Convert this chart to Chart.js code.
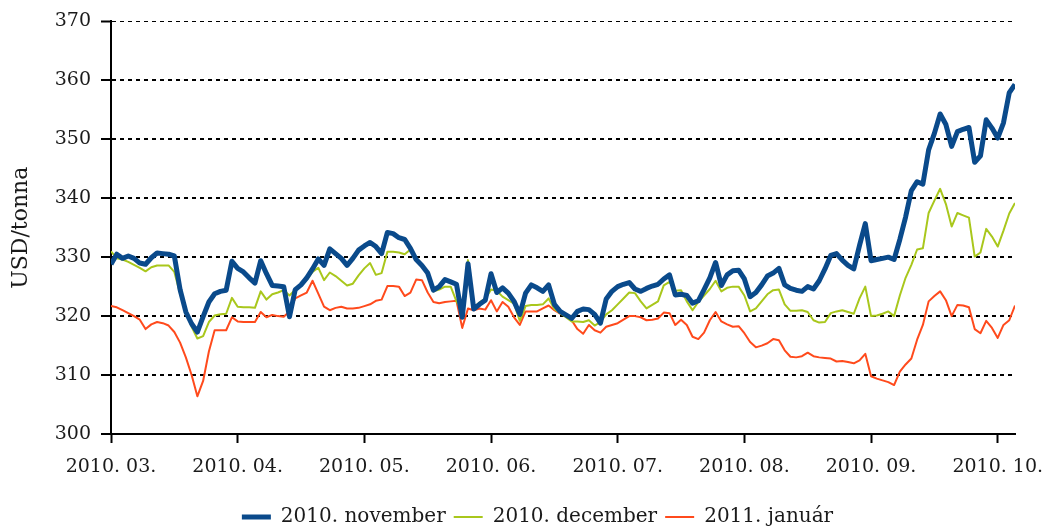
<!DOCTYPE html>
<html>
<head>
<meta charset="utf-8">
<script src="https://cdn.jsdelivr.net/npm/chart.js@4.4.1/dist/chart.umd.min.js"></script>
<style>
  html, body { margin: 0; padding: 0; background: #fff; }
  #wrap { width: 1045px; height: 528px; }
</style>
</head>
<body>
<div id="wrap"><canvas id="priceChart"></canvas></div>
<script>
// month labels, one every 22 trading days
const MONTH_LABELS = ['2010. 03.', '2010. 04.', '2010. 05.', '2010. 06.', '2010. 07.', '2010. 08.', '2010. 09.', '2010. 10.'];
const DAYS_PER_MONTH_TICK = 22;

const Y_MIN = 300;
const Y_MAX = 370;
const Y_STEP = 10;

const SERIES_NAMES = ['2010. november', '2010. december', '2011. január'];

const NOV_2010 = [
  328.8, 330.5, 329.8, 330.2, 329.8, 329.0, 328.8, 329.9, 330.7, 330.6,
  330.5, 330.2, 324.5, 320.7, 318.7, 317.3, 319.9, 322.4, 323.8, 324.2,
  324.4, 329.3, 328.1, 327.5, 326.5, 325.6, 329.4, 327.2, 325.2, 325.1,
  325.0, 319.9, 324.5, 325.3, 326.5, 328.0, 329.7, 328.6, 331.4, 330.6,
  329.8, 328.6, 329.8, 331.2, 331.9, 332.5, 331.8, 330.6, 334.2, 334.0,
  333.3, 333.0, 331.5, 329.6, 328.6, 327.3, 324.4, 325.0, 326.2, 325.8,
  325.4, 319.8, 328.9, 321.2, 322.0, 322.7, 327.2, 324.0, 324.8, 323.9,
  322.5, 320.3, 323.9, 325.3, 324.8, 324.2, 325.3, 322.0, 320.8, 320.2,
  319.6, 320.8, 321.2, 321.1, 320.3, 318.8, 322.9, 324.2, 325.0, 325.4,
  325.7, 324.6, 324.2, 324.7, 325.1, 325.4, 326.3, 327.0, 323.6, 323.7,
  323.5, 322.2, 322.6, 324.5, 326.5, 329.1, 325.2, 327.0, 327.7, 327.8,
  326.3, 323.3, 324.0, 325.3, 326.8, 327.3, 328.1, 325.3, 324.7, 324.4,
  324.2, 325.0, 324.6, 326.0, 328.0, 330.3, 330.6, 329.5, 328.6, 328.0,
  332.0, 335.7, 329.4, 329.6, 329.8, 330.0, 329.6, 333.0, 336.8, 341.3,
  342.8, 342.4, 348.2, 351.0, 354.3, 352.5, 348.8, 351.3, 351.7, 352.0,
  346.1, 347.2, 353.3, 351.9, 350.2, 352.8, 357.9, 359.3
];

const DEC_2010 = [
  331.0, 329.8, 329.6, 329.2, 328.7, 328.2, 327.6, 328.3, 328.6, 328.6,
  328.6, 327.5, 323.8, 320.7, 318.2, 316.2, 316.6, 319.0, 320.1, 320.3,
  320.4, 323.1, 321.6, 321.5, 321.5, 321.4, 324.2, 322.8, 323.7, 324.0,
  324.4, 323.5, 324.5, 325.3, 326.2, 327.5, 328.2, 326.1, 327.4, 326.8,
  326.0, 325.2, 325.5, 326.9, 328.1, 329.0, 327.0, 327.3, 330.9, 330.9,
  330.8, 330.5, 331.3, 329.4, 328.4, 327.3, 324.2, 324.5, 325.0, 325.0,
  322.5, 321.0, 329.5, 321.5, 322.3, 323.0, 324.5, 324.3, 323.3, 322.7,
  322.1, 319.2, 321.7, 321.9, 321.9, 322.0, 323.0, 321.2, 320.5, 319.8,
  319.1, 319.1, 319.0, 319.3, 318.4, 319.0, 320.3, 321.0, 322.0, 323.0,
  324.0, 323.9, 322.5, 321.3, 321.9, 322.5, 325.2, 325.8, 324.3, 324.4,
  322.5, 321.0, 322.4, 323.5, 324.6, 326.0, 324.2, 324.8, 325.0, 325.0,
  323.5, 320.8, 321.3, 322.5, 323.7, 324.4, 324.5, 322.0, 320.9, 320.9,
  321.0, 320.7, 319.3, 318.9, 319.0, 320.5, 320.8, 321.0, 320.7, 320.4,
  323.0, 325.0, 320.0, 320.1, 320.4, 320.8, 320.0, 323.5, 326.5, 328.7,
  331.3, 331.5, 337.5, 339.6, 341.6, 339.0, 335.2, 337.5, 337.1, 336.7,
  330.1, 330.8, 334.8, 333.5, 331.8, 334.5, 337.4, 339.2
];

const JAN_2011 = [
  321.7, 321.5, 321.0, 320.5, 320.0, 319.4, 317.8, 318.6, 319.0, 318.8,
  318.4, 317.3, 315.5, 313.0, 310.0, 306.4, 309.0, 314.0, 317.6, 317.6,
  317.6, 319.8, 319.1, 319.0, 319.0, 319.0, 320.7, 319.8, 320.2, 320.0,
  319.9, 320.8, 323.0, 323.5, 324.0, 326.0, 323.8, 321.6, 321.0, 321.4,
  321.6, 321.3, 321.3, 321.4, 321.7, 322.0, 322.6, 322.8, 325.1, 325.1,
  325.0, 323.4, 324.0, 326.2, 326.1, 324.0, 322.4, 322.2, 322.4, 322.5,
  322.6, 318.0, 321.3, 321.0, 321.3, 321.1, 322.7, 320.8, 322.4, 321.6,
  319.8, 318.5, 320.8, 320.8, 320.8, 321.3, 321.8, 321.0, 320.4, 320.3,
  319.3, 317.8, 317.0, 318.5, 317.6, 317.2, 318.2, 318.5, 318.8, 319.4,
  320.0, 320.0, 319.8, 319.3, 319.4, 319.6, 320.6, 320.5, 318.5, 319.4,
  318.5, 316.5, 316.1, 317.2, 319.3, 320.7, 319.1, 318.6, 318.2, 318.3,
  317.1, 315.6, 314.7, 315.0, 315.4, 316.1, 315.9, 314.2, 313.1, 313.0,
  313.2, 313.8, 313.2, 313.0, 312.9, 312.8, 312.3, 312.4, 312.2, 312.0,
  312.5, 313.6, 309.8, 309.4, 309.1, 308.8, 308.3, 310.6, 311.8, 312.8,
  316.0, 318.5, 322.5, 323.4, 324.2, 322.7, 320.0, 321.9, 321.8, 321.5,
  317.8, 317.1, 319.2, 318.0, 316.3, 318.5, 319.3, 321.8
];

const BLUE = '#0a4a8b';
const GREEN = '#a9c71c';
const ORANGE = '#ff4a1c';
const TEXT = '#1a1a1a';
const SERIF = "'DejaVu Serif', 'Liberation Serif', serif";

function toPoints(values) {
  return values.map((v, i) => ({ x: i, y: v }));
}

function lineSet(label, values, color, width) {
  return {
    label: label,
    data: toPoints(values),
    borderColor: color,
    backgroundColor: color,
    borderWidth: width,
    pointRadius: 0,
    pointHoverRadius: 0,
    tension: 0,
    borderJoinStyle: 'round',
    borderCapStyle: 'butt'
  };
}

// legend sits a bit right of and below where Chart.js puts it
const legendNudge = {
  id: 'legendNudge',
  afterLayout(chart) {
    const lg = chart.legend;
    if (!lg) return;
    lg.left += 30; lg.right += 30;
    lg.top += 9; lg.bottom += 9;
  }
};

new Chart(document.getElementById('priceChart'), {
  type: 'line',
  data: {
    datasets: [
      lineSet(SERIES_NAMES[0], NOV_2010, BLUE, 5),
      lineSet(SERIES_NAMES[1], DEC_2010, GREEN, 2),
      lineSet(SERIES_NAMES[2], JAN_2011, ORANGE, 2)
    ]
  },
  options: {
    responsive: true,
    maintainAspectRatio: false,
    animation: false,
    layout: { padding: { top: 21, right: 30, bottom: 0, left: 0 } },
    plugins: {
      tooltip: { enabled: false },
      legend: {
        position: 'bottom',
        labels: {
          usePointStyle: true,
          pointStyle: 'line',
          pointStyleWidth: 29,
          padding: 8,
          color: TEXT,
          font: { family: SERIF, size: 20 }
        }
      }
    },
    scales: {
      x: {
        type: 'linear',
        min: 0,
        max: NOV_2010.length - 1,
        afterBuildTicks(scale) {
          scale.ticks = MONTH_LABELS.map((_, i) => ({ value: i * DAYS_PER_MONTH_TICK }));
        },
        afterFit(scale) {
          scale.height = 56;
          scale.paddingLeft = 0;
          scale.paddingRight = 0;
        },
        ticks: {
          autoSkip: false,
          maxRotation: 0,
          padding: 13,
          color: TEXT,
          font: { family: SERIF, size: 19 },
          callback: v => MONTH_LABELS[Math.round(v / DAYS_PER_MONTH_TICK)]
        },
        grid: { drawOnChartArea: false, tickLength: 9, tickWidth: 2, tickColor: '#000' },
        border: { color: '#000', width: 2 }
      },
      y: {
        min: Y_MIN,
        max: Y_MAX,
        afterFit(scale) { scale.width = 111; },
        ticks: {
          stepSize: Y_STEP,
          padding: 10,
          color: TEXT,
          font: { family: SERIF, size: 19 }
        },
        grid: {
          color: '#000',
          lineWidth: c => (c.tick && c.tick.value === Y_MAX ? 1 : 2),
          tickLength: 10,
          tickWidth: 2,
          tickColor: '#000'
        },
        border: { color: '#000', width: 2, dash: [4, 4] },
        title: {
          display: true,
          text: 'USD/tonna',
          color: TEXT,
          font: { family: SERIF, size: 22 },
          padding: { top: 8, bottom: 0 }
        }
      }
    }
  },
  plugins: [legendNudge]
});
</script>
</body>
</html>
